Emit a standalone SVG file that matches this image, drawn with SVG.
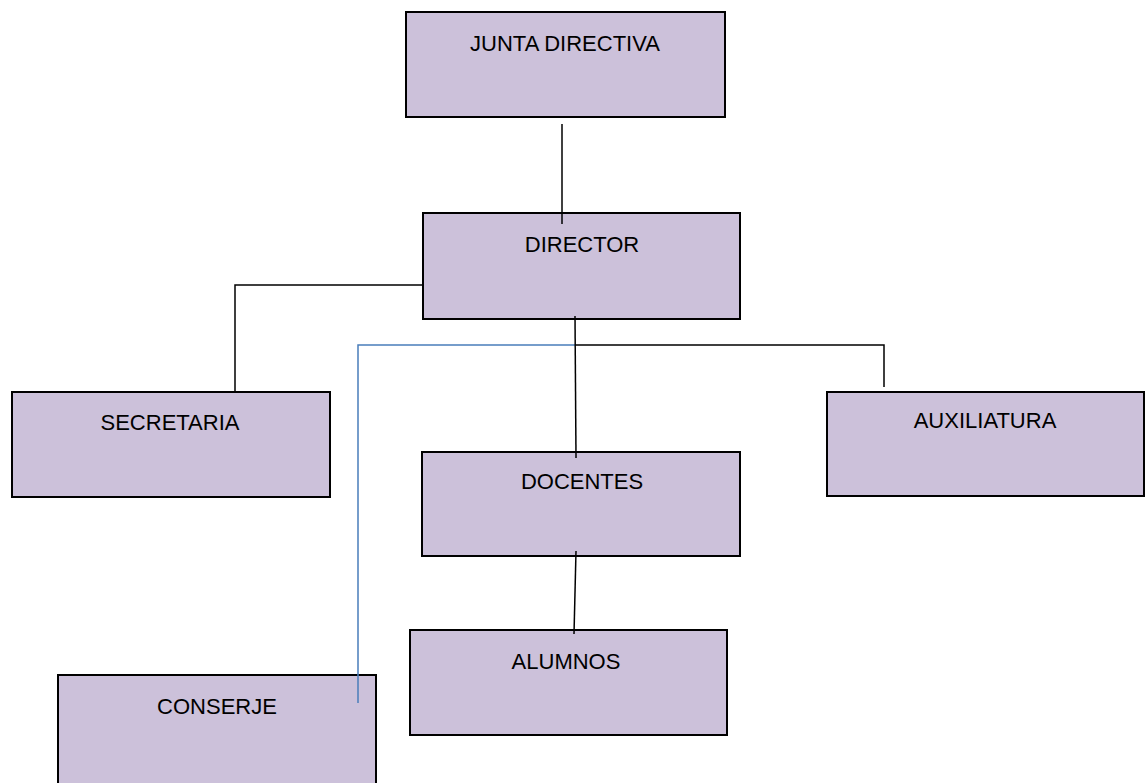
<svg xmlns="http://www.w3.org/2000/svg" width="1146" height="783" viewBox="0 0 1146 783">
<style>
.box{fill:#ccc1da;stroke:#000;stroke-width:2}
.lbl{font-family:"Liberation Sans",Arial,sans-serif;font-size:22px;fill:#000;text-anchor:middle}
.con{fill:none;stroke:#000;stroke-width:1.5}
.blue{fill:none;stroke:#4a7ebb;stroke-width:1.5}
</style>
<rect width="1146" height="783" fill="#fff"/>
<g id="junta"><rect class="box" x="406" y="12" width="319" height="105"/><text class="lbl" x="565" y="51">JUNTA DIRECTIVA</text></g>
<g id="director"><rect class="box" x="423" y="213" width="317" height="106"/><text class="lbl" x="582" y="252">DIRECTOR</text></g>
<g id="secretaria"><rect class="box" x="12" y="392" width="318" height="105"/><text class="lbl" x="170" y="430">SECRETARIA</text></g>
<g id="auxiliatura"><rect class="box" x="827" y="392" width="317" height="104"/><text class="lbl" x="985" y="428">AUXILIATURA</text></g>
<g id="docentes"><rect class="box" x="422" y="452" width="318" height="104"/><text class="lbl" x="582" y="489">DOCENTES</text></g>
<g id="alumnos"><rect class="box" x="410" y="630" width="317" height="105"/><text class="lbl" x="566" y="669">ALUMNOS</text></g>
<g id="conserje"><rect class="box" x="58" y="675" width="318" height="120"/><text class="lbl" x="217" y="714">CONSERJE</text></g>
<g id="connectors">
<line class="con" x1="562" y1="124" x2="562" y2="224"/>
<polyline class="con" points="423,285 235,285 235,392"/>
<polyline class="blue" points="575,345 358,345 358,703"/>
<polyline class="con" points="575,345 884,345 884,387"/>
<line class="con" x1="575" y1="316" x2="576" y2="458"/>
<line class="con" x1="576" y1="551" x2="574" y2="634"/>
</g>
</svg>
